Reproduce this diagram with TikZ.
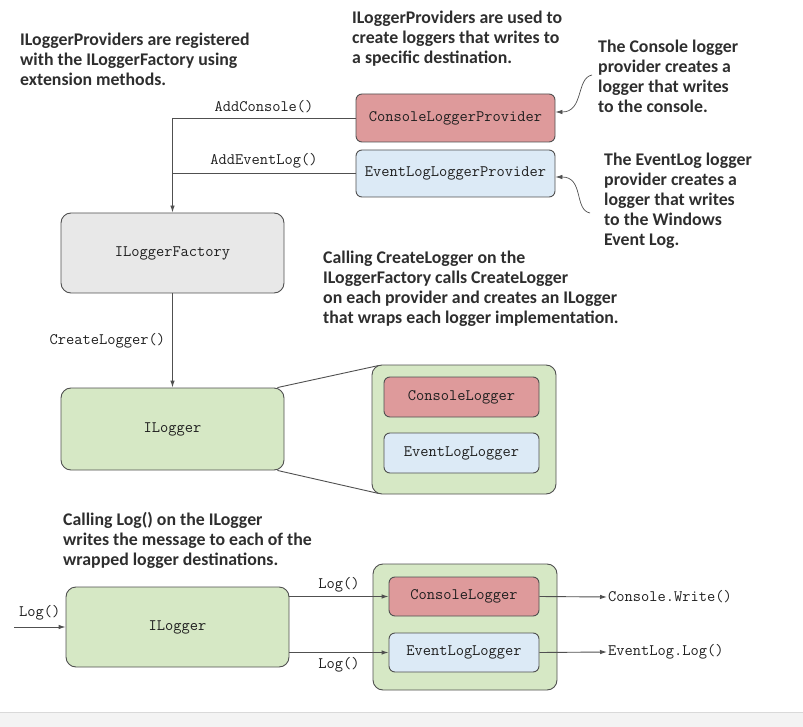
\documentclass[tikz,border=0pt]{standalone}
\usepackage{fontspec}
\setmainfont{Carlito}
\usepackage{xcolor}
\usetikzlibrary{positioning,arrows.meta}

\definecolor{provred}{HTML}{DE9A9B}
\definecolor{provblue}{HTML}{DCEAF6}
\definecolor{factgray}{HTML}{E8E8E8}
\definecolor{loggreen}{HTML}{D6E8C5}
\definecolor{linegray}{HTML}{505050}
\definecolor{textdark}{HTML}{2E2E2E}
\definecolor{codegray}{HTML}{1E1E1E}
\definecolor{stripgray}{HTML}{F3F3F3}

\begin{document}
\begin{tikzpicture}[x=1pt,y=-1pt,
		box/.style={draw=linegray,line width=0.9pt,rounded corners=10pt,inner sep=0pt,
			font=\ttfamily\fontsize{16}{18}\selectfont,text=codegray},
		smallbox/.style={box,rounded corners=6pt},
		note/.style={anchor=north west,align=left,inner sep=0pt,text=textdark,
			font=\bfseries\fontsize{17.8}{20}\selectfont},
		code/.style={inner sep=1pt,font=\ttfamily\fontsize{16}{18}\selectfont,text=codegray},
		edge/.style={draw=linegray,line width=0.9pt,-{Latex[length=7pt,width=4.5pt]}},
		link/.style={draw=linegray,line width=0.9pt},
		callout/.style={draw=linegray,line width=0.7pt,-{Latex[length=7pt,width=4.5pt]}}
		]
		\useasboundingbox (0,0) rectangle (803,727);
		\fill[stripgray] (0,712) rectangle (803,727);
		\draw[black!15] (0,712) -- (803,712);
		
		% notes
		\node[note] (n1) at (20,33) {ILoggerProviders are registered\\with the ILoggerFactory using\\extension methods.};
		\node[note] (n2) at (352,11) {ILoggerProviders are used to\\create loggers that writes to\\a specific destination.};
		\node[note] (n3) at (598,40) {The Console logger\\provider creates a\\logger that writes\\to the console.};
		\node[note] (n4) at (604,153) {The EventLog logger\\provider creates a\\logger that writes\\to the Windows\\Event Log.};
		\node[note] (n5) at (323,251) {Calling CreateLogger on the\\ILoggerFactory calls CreateLogger\\on each provider and creates an ILogger\\that wraps each logger implementation.};
		\node[note] (n6) at (63,512) {Calling Log() on the ILogger\\writes the message to each of the\\wrapped logger destinations.};
		
		% providers and factory
		\node[smallbox,fill=provred,minimum width=199pt,minimum height=48pt] (cprov) at (455.5,118) {ConsoleLoggerProvider};
		\node[smallbox,fill=provblue,minimum width=199pt,minimum height=47pt] (eprov) at (455.5,173.5) {EventLogLoggerProvider};
		\node[box,fill=factgray,minimum width=223pt,minimum height=80pt] (factory) at (172.5,253) {ILoggerFactory};
		
		\draw[link] (cprov.west) -- node[code,above=4pt] {AddConsole()} (cprov.west -| factory.north) coordinate (top);
		\draw[link] (eprov.west) -- node[code,above=4pt] {AddEventLog()} (eprov.west -| factory.north);
		\draw[edge] (top) -- (factory.north);
		
		\coordinate (c1) at (592,75);
		\coordinate (c2) at (590,213);
		\draw[callout] (c1) .. controls (576,78) and (584,112) .. ([yshift=6pt]cprov.east);
		\draw[callout] (c2) .. controls (574,210) and (584,177) .. ([yshift=-3.5pt]eprov.east);
		
		% created logger
		\node[box,fill=loggreen,minimum width=223pt,minimum height=82pt] (ilog1) at (172.5,429) {ILogger};
		\draw[edge] (factory.south) -- node[code,left=6pt] {CreateLogger()} (ilog1.north);
		
		\node[box,fill=loggreen,minimum width=184pt,minimum height=129pt] (wrap1) at (464,429.5) {};
		\node[smallbox,fill=provred,minimum width=155pt,minimum height=40pt] (clog1) at (461.5,397) {ConsoleLogger};
		\node[smallbox,fill=provblue,minimum width=155pt,minimum height=40pt] (elog1) at (461.5,453) {EventLogLogger};
		\draw[link] ([xshift=-7pt]ilog1.north east) -- ([xshift=7pt,yshift=-1pt]wrap1.north west);
		\draw[link] ([xshift=-7pt]ilog1.south east) -- ([xshift=7pt,yshift=1pt]wrap1.south west);
		
		% logging
		\node[box,fill=loggreen,minimum width=223pt,minimum height=80pt] (ilog2) at (177.5,627) {ILogger};
		\node[box,fill=loggreen,minimum width=184pt,minimum height=126pt] (wrap2) at (465,627) {};
		\node[smallbox,fill=provred,minimum width=150pt,minimum height=39pt] (clog2) at (464,596.5) {ConsoleLogger};
		\node[smallbox,fill=provblue,minimum width=150pt,minimum height=39pt] (elog2) at (464,652.5) {EventLogLogger};
		
		\coordinate (logstart) at (14,627);
		\draw[edge] (logstart) -- node[code,above=5pt] {Log()} (ilog2.west);
		\draw[edge] (ilog2.east |- clog2.west) -- node[code,above=3pt] {Log()} (clog2.west);
		\draw[edge] (ilog2.east |- elog2.west) -- node[code,below=3pt] {Log()} (elog2.west);
		
		\node[code,anchor=west] (cwrite) at (607,597) {Console.Write()};
		\node[code,anchor=west] (elwrite) at (607,652) {EventLog.Log()};
		\draw[edge] (clog2.east) -- (cwrite.west);
		\draw[edge] (elog2.east) -- (elwrite.west);
	\end{tikzpicture}
\end{document}
